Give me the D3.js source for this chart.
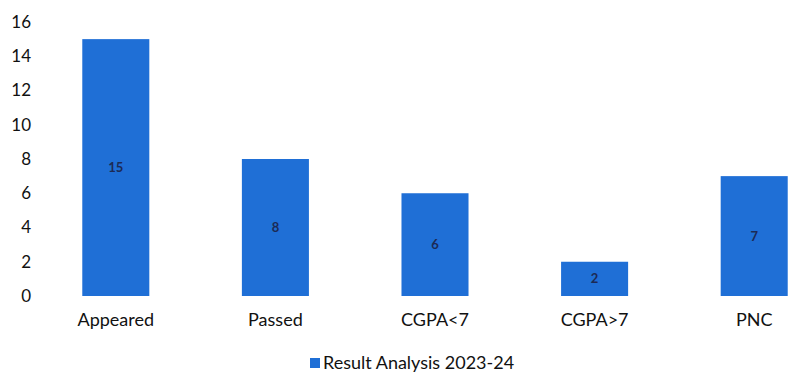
<!DOCTYPE html>
<html>
<head>
<meta charset="utf-8">
<script src="https://cdn.jsdelivr.net/npm/d3@7"></script>
<style>
  body { margin: 0; background: #fff; }
  svg { display: block; font-family: Lato, "Open Sans", sans-serif; }
</style>
</head>
<body>
<svg></svg>
<script>
const categories = ["Appeared", "Passed", "CGPA<7", "CGPA>7", "PNC"];
const values = [15, 8, 6, 2, 7];
const yTicks = [0, 2, 4, 6, 8, 10, 12, 14, 16];
const seriesName = "Result Analysis 2023-24";

const width = 793;
const height = 392;
const barColor = "#1f6fd6";

let svg = d3.select("svg").attr("width", width).attr("height", height);

let x = d3.scaleBand().domain(categories).range([36, 834]).paddingInner(0.58).paddingOuter(0.29);
let y = d3.scaleLinear().domain([0, 16]).range([296, 22]);

// y axis: labels only, no line
let axisY = d3.axisLeft(y).tickValues(yTicks).tickSize(0).tickPadding(0);
let gy = svg.append("g").attr("transform", "translate(31,0)").call(axisY);
gy.select(".domain").remove();
gy.selectAll("text")
    .style("font-size", "17px")
    .style("font-family", "Lato, 'Open Sans', sans-serif")
    .attr("fill", "#111");

// bars
svg.selectAll(".bar").data(values).enter().append("rect").attr("class", "bar")
    .attr("x", (d, i) => x(categories[i]))
    .attr("y", d => y(d))
    .attr("width", x.bandwidth())
    .attr("height", d => y(0) - y(d))
    .style("fill", barColor);

// value labels in the middle of the bars
svg.selectAll(".val").data(values).enter().append("text").attr("class", "val")
    .attr("x", (d, i) => x(categories[i]) + x.bandwidth() / 2)
    .attr("y", d => (y(d) + y(0)) / 2)
    .attr("dy", "0.35em")
    .attr("text-anchor", "middle")
    .style("font-size", "13px")
    .style("font-weight", "bold")
    .attr("fill", "#1c2a55")
    .text(d => d);

// x axis: labels only
let axisX = d3.axisBottom(x).tickSize(0).tickPadding(0);
let gx = svg.append("g").attr("transform", "translate(0,313)").call(axisX);
gx.select(".domain").remove();
gx.selectAll("text")
    .style("font-size", "18px")
    .style("font-family", "Lato, 'Open Sans', sans-serif")
    .attr("fill", "#111");

// legend
let legend = svg.append("g").attr("transform", "translate(310,369)");
legend.append("rect").attr("x", 0).attr("y", -11).attr("width", 10).attr("height", 10).style("fill", barColor);
legend.append("text").attr("x", 13).attr("y", 0)
    .style("font-size", "18px")
    .attr("fill", "#111")
    .text(seriesName);
</script>
</body>
</html>
